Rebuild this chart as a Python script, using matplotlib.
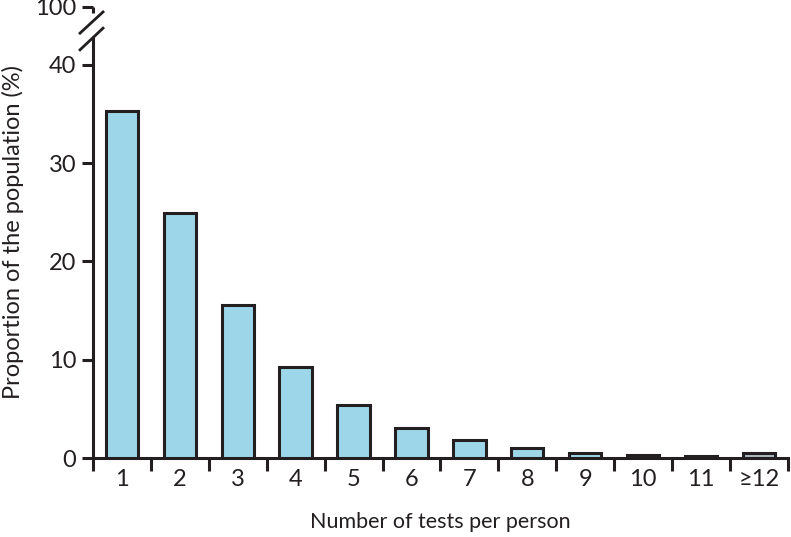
import numpy as np
import matplotlib.pyplot as plt
from matplotlib.lines import Line2D

plt.rcParams['font.family'] = ['Lato', 'DejaVu Sans']

categories = ['1', '2', '3', '4', '5', '6', '7', '8', '9', '10', '11', '\u226512']
proportion = [35.3, 24.9, 15.6, 9.3, 5.4, 3.1, 1.8, 1.0, 0.55, 0.35, 0.25, 0.5]
ytick_values = [0, 10, 20, 30, 40]
ytick_top_label = '100'

ytop = 45.9        # position where the broken axis shows 100
lower_end = 42.7   # end of lower spine segment
upper_start = 45.3 # start of upper spine segment

fig = plt.figure(figsize=(7.91, 5.37), dpi=100)
ax = fig.add_axes([0.1176, 0.1471, 0.8784, 0.8399])

x = np.arange(len(categories))
fills = ['#9dd6e8'] * (len(categories) - 1) + ['#b0bac0']
ax.bar(x, proportion, width=0.56, color=fills, edgecolor='#231f20', linewidth=2.2, zorder=3)

ax.set_xlim(-0.5, len(categories) - 0.5)
ax.set_ylim(0, ytop)

for s in ['top', 'right']:
    ax.spines[s].set_visible(False)
ax.spines['left'].set_linewidth(2.2)
ax.spines['bottom'].set_linewidth(2.2)
ax.spines['left'].set_color('#231f20')
ax.spines['bottom'].set_color('#231f20')
ax.spines['left'].set_bounds(0, lower_end)

# upper spine piece above the break
ax.plot([-0.5, -0.5], [upper_start, ytop], color='#231f20', lw=2.2, clip_on=False, solid_capstyle='butt')

# break marks
for y0, y1 in [(0.942, 0.989), (0.905, 0.953)]:
    ax.add_line(Line2D([-0.0187, 0.0144], [y0, y1], transform=ax.transAxes,
                       color='#231f20', lw=2.0, clip_on=False))

ax.set_yticks(ytick_values + [ytop])
ax.set_yticklabels([str(v) for v in ytick_values] + [ytick_top_label])
ax.tick_params(axis='y', direction='out', length=8, width=2.2, color='#231f20',
               labelsize=17, labelcolor='#231f20', pad=4)

# x ticks: marks at category boundaries, labels at centres
ax.set_xticks(np.arange(-0.5, len(categories), 1.0))
ax.set_xticklabels([])
ax.set_xticks(x, minor=True)
ax.set_xticklabels(categories, minor=True)
ax.tick_params(axis='x', which='major', direction='out', length=9, width=2.2, color='#231f20')
ax.tick_params(axis='x', which='minor', length=0, labelsize=17, labelcolor='#231f20', pad=8)

ax.set_xlabel('Number of tests per person', fontsize=15.5, color='#231f20', labelpad=16)
ax.set_ylabel('Proportion of the population (%)', fontsize=17, color='#231f20', labelpad=8)

fig.savefig('out.png', dpi=100)
